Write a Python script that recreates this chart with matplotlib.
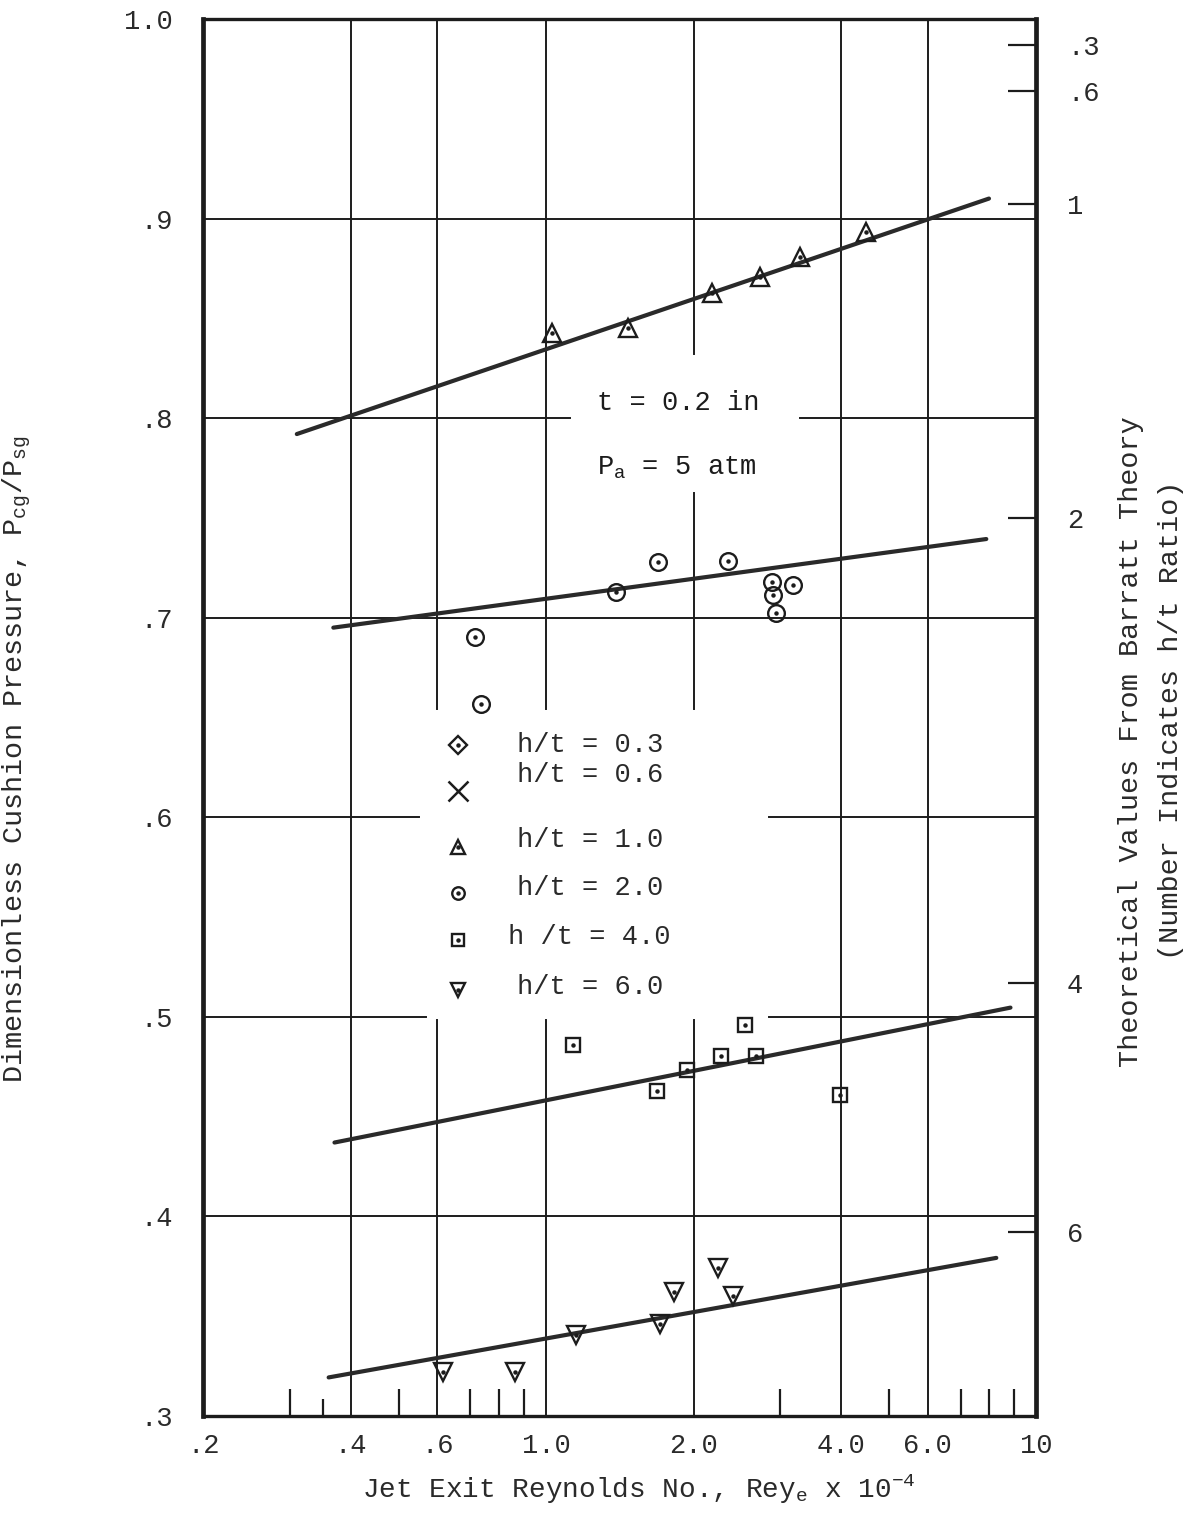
import matplotlib.pyplot as plt
from matplotlib.ticker import FixedLocator, FixedFormatter, NullLocator

plt.rcParams["font.family"] = ["Liberation Mono", "DejaVu Sans Mono"]
plt.rcParams["mathtext.fontset"] = "custom"
plt.rcParams["mathtext.rm"] = "Liberation Mono"
plt.rcParams["mathtext.it"] = "Liberation Mono"
plt.rcParams["mathtext.bf"] = "Liberation Mono"

INK = "#1c1c1c"
TYPE = "#2a2a2a"

# measured points: Rey_e x 10^-4 against Pcg/Psg
rey_h1 = [1.03, 1.47, 2.18, 2.73, 3.30, 4.5]
p_h1 = [0.8425, 0.845, 0.8625, 0.8705, 0.8805, 0.893]

rey_h2 = [0.715, 0.736, 1.39, 1.69, 2.35, 2.89, 2.90, 2.94, 3.19]
p_h2 = [0.6905, 0.6565, 0.713, 0.728, 0.7285, 0.718, 0.7115, 0.7025, 0.7165]

rey_h4 = [1.135, 1.68, 1.94, 2.27, 2.54, 2.68, 3.98]
p_h4 = [0.486, 0.463, 0.4735, 0.4805, 0.496, 0.4805, 0.461]

rey_h6 = [0.616, 0.864, 1.15, 1.71, 1.82, 2.24, 2.40]
p_h6 = [0.322, 0.322, 0.3407, 0.3462, 0.3623, 0.3739, 0.3603]

# faired lines through each h/t group (end points)
fit_h1_x = [0.31, 8.0]
fit_h1_y = [0.792, 0.910]
fit_h2_x = [0.368, 7.9]
fit_h2_y = [0.695, 0.7394]
fit_h4_x = [0.37, 8.85]
fit_h4_y = [0.437, 0.5046]
fit_h6_x = [0.36, 8.28]
fit_h6_y = [0.3193, 0.3792]

# Barratt theory values marked on the right-hand scale
theory_p = [0.987, 0.964, 0.9075, 0.75, 0.517, 0.392]
theory_labels = [".3", ".6", "1", "2", "4", "6"]

x_ticks = [0.2, 0.4, 0.6, 1.0, 2.0, 4.0, 6.0, 10]
x_labels = [".2", ".4", ".6", "1.0", "2.0", "4.0", "6.0", "10"]
x_minor = [0.3, 0.5, 0.7, 0.8, 0.9, 3, 5, 7, 8, 9]
x_half = [0.35]
y_ticks = [0.3, 0.4, 0.5, 0.6, 0.7, 0.8, 0.9, 1.0]
y_labels = [".3", ".4", ".5", ".6", ".7", ".8", ".9", "1.0"]

# ruled grid, broken where the notes and key are typed in
h_grid = {
    0.9: [(0.2, 10)],
    0.8: [(0.2, 1.12), (3.3, 10)],
    0.7: [(0.2, 10)],
    0.6: [(0.2, 0.55), (2.85, 10)],
    0.5: [(0.2, 0.57), (2.85, 10)],
    0.4: [(0.2, 10)],
}
v_grid = {
    0.4: [(0.3, 1.0)],
    0.6: [(0.3, 0.4985), (0.654, 1.0)],
    1.0: [(0.3, 0.4985), (0.654, 1.0)],
    2.0: [(0.3, 0.4985), (0.654, 0.7625), (0.832, 1.0)],
    4.0: [(0.3, 1.0)],
    6.0: [(0.3, 1.0)],
}

fig = plt.figure(figsize=(11.9, 15.16), dpi=100)
ax = fig.add_axes([0.171, 0.066, 0.700, 0.9215])
ax.set_xscale("log")
ax.set_xlim(0.2, 10)
ax.set_ylim(0.3, 1.0)

for y, spans in h_grid.items():
    for x0, x1 in spans:
        ax.plot([x0, x1], [y, y], color=INK, lw=1.4, zorder=1)
for x, spans in v_grid.items():
    for y0, y1 in spans:
        ax.plot([x, x], [y0, y1], color=INK, lw=1.4, zorder=1)

for fx, fy in [(fit_h1_x, fit_h1_y), (fit_h2_x, fit_h2_y),
               (fit_h4_x, fit_h4_y), (fit_h6_x, fit_h6_y)]:
    ax.plot(fx, fy, color="#2a2a2a", lw=3.0, solid_capstyle="round", zorder=3)


def plot_set(x, y, marker, size, transform=None):
    kw = {} if transform is None else {"transform": transform, "clip_on": False}
    ax.plot(x, y, linestyle="none", marker=marker, markersize=size,
            markerfacecolor="none", markeredgecolor=INK,
            markeredgewidth=1.7, zorder=4, **kw)
    ax.plot(x, y, linestyle="none", marker="o", markersize=2.2,
            color=INK, zorder=5, **kw)


plot_set(rey_h1, p_h1, "^", 13)
plot_set(rey_h2, p_h2, "o", 12)
plot_set(rey_h4, p_h4, "s", 10.5)
plot_set(rey_h6, p_h6, "v", 13)

# key
key = [
    ("D", 9, 0.480, "h/t = 0.3", 0.480),
    ("x", 14, 0.447, "h/t = 0.6", 0.459),
    ("^", 10, 0.407, "h/t = 1.0", 0.412),
    ("o", 9, 0.374, "h/t = 2.0", 0.378),
    ("s", 9, 0.341, "h /t = 4.0", 0.343),
    ("v", 10, 0.305, "h/t = 6.0", 0.307),
]
for marker, size, my, label, ty in key:
    if marker == "x":
        ax.plot([0.305], [my], linestyle="none", marker="x", markersize=size,
                markeredgecolor=INK, markeredgewidth=1.8,
                transform=ax.transAxes, zorder=4)
    else:
        plot_set([0.305], [my], marker, size, transform=ax.transAxes)
    tx = 0.366 if label.startswith("h /") else 0.376
    ax.text(tx, ty, label, transform=ax.transAxes, fontsize=19.5,
            color=TYPE, va="center", ha="left")

ax.text(0.472, 0.725, "t = 0.2 in", transform=ax.transAxes, fontsize=19.5,
        color=INK, va="center", ha="left")
ax.text(0.472, 0.679, r"P$_\mathregular{a}$ = 5 atm", transform=ax.transAxes,
        fontsize=19.5, color=INK, va="center", ha="left")

# bottom scale
ax.xaxis.set_major_locator(FixedLocator(x_ticks))
ax.xaxis.set_major_formatter(FixedFormatter(x_labels))
ax.xaxis.set_minor_locator(NullLocator())
ax.tick_params(axis="x", which="major", length=0, pad=12, labelsize=19.5,
               labelcolor=TYPE)
xt = ax.get_xaxis_transform()
ax.vlines(x_minor, 0, 0.019, transform=xt, color=INK, lw=1.6)
ax.vlines(x_half, 0, 0.012, transform=xt, color=INK, lw=1.6)

# left scale
ax.yaxis.set_major_locator(FixedLocator(y_ticks))
ax.yaxis.set_major_formatter(FixedFormatter(y_labels))
ax.tick_params(axis="y", which="major", length=0, pad=22, labelsize=19.5,
               labelcolor=TYPE)

for side in ["left", "right"]:
    ax.spines[side].set_linewidth(3.4)
for side in ["top", "bottom"]:
    ax.spines[side].set_linewidth(2.4)
for sp in ax.spines.values():
    sp.set_color(INK)

ax.set_xlabel(r"Jet Exit Reynolds No., Rey$_\mathregular{e}$ x 10$^\mathregular{-4}$",
              fontsize=20, color=TYPE)
ax.xaxis.set_label_coords(0.523, -0.041)
ax.set_ylabel(r"Dimensionless Cushion Pressure, P$_\mathregular{cg}$/P$_\mathregular{sg}$",
              fontsize=20.5, color=TYPE)
ax.yaxis.set_label_coords(-0.205, 0.47)

# right scale: theory values
ax2 = ax.twinx()
ax2.set_ylim(ax.get_ylim())
ax2.yaxis.set_major_locator(FixedLocator(theory_p))
ax2.yaxis.set_major_formatter(FixedFormatter(theory_labels))
ax2.tick_params(axis="y", direction="in", length=20, width=1.6, color=INK,
                pad=22, labelsize=19.5, labelcolor=TYPE)
for sp in ax2.spines.values():
    sp.set_visible(False)

fig.text(0.950, 0.511, "Theoretical Values From Barratt Theory", rotation=90,
         fontsize=20.5, color=TYPE, ha="center", va="center")
fig.text(0.984, 0.525, "(Number Indicates h/t Ratio)", rotation=90,
         fontsize=20.5, color=TYPE, ha="center", va="center")

fig.savefig("out.png", dpi=100, facecolor="white")
